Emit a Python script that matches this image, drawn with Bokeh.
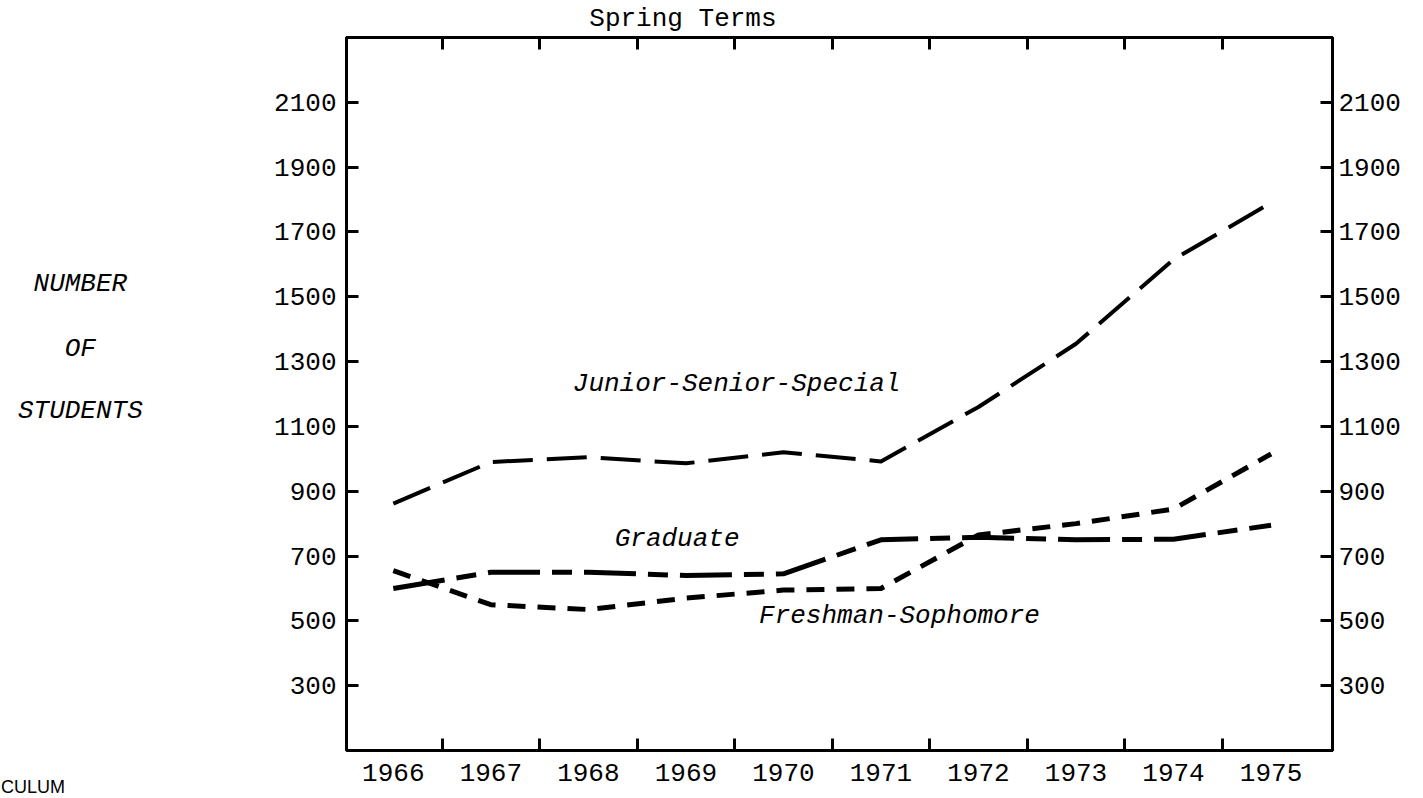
from bokeh.plotting import figure
from bokeh.models import FixedTicker, LinearAxis, Range1d, Label
from bokeh.layouts import row, column
from bokeh.embed import file_html
from bokeh.resources import INLINE

# ---- data ----
years = [1966, 1967, 1968, 1969, 1970, 1971, 1972, 1973, 1974, 1975]
junior_senior_special = [862, 990, 1005, 986, 1020, 992, 1160, 1355, 1615, 1790]
graduate = [600, 650, 650, 640, 645, 750, 758, 750, 752, 795]
freshman_sophomore = [655, 550, 535, 570, 595, 600, 765, 800, 845, 1015]
y_ticks = [300, 500, 700, 900, 1100, 1300, 1500, 1700, 1900, 2100]
year_bounds = [y + 0.5 for y in years[:-1]]

MONO = "Liberation Mono"

X0, X1 = 1965.52, 1975.63
Y0, Y1 = 100, 2300

# ---- main chart ----
p = figure(width=1173, height=762, output_backend="svg", toolbar_location=None,
           title=None,
           x_range=Range1d(X0, X1), y_range=Range1d(Y0, Y1),
           min_border_left=96, min_border_right=91,
           min_border_top=1, min_border_bottom=48)
p.background_fill_color = "white"
p.border_fill_color = "white"
p.outline_line_color = "black"
p.outline_line_width = 3
p.xgrid.visible = False
p.ygrid.visible = False

def style_axis(ax):
    ax.axis_line_color = "black"
    ax.axis_line_width = 3
    ax.major_tick_line_color = "black"
    ax.major_tick_line_width = 3
    ax.minor_tick_line_color = "black"
    ax.minor_tick_line_width = 3
    ax.major_label_text_font = MONO
    ax.major_label_text_font_size = "26px"
    ax.major_label_text_color = "black"

# bottom axis: year labels at centres, tick marks at boundaries
xb = p.xaxis[0]
xb.ticker = FixedTicker(ticks=years, minor_ticks=year_bounds)
style_axis(xb)
xb.major_tick_in = 0
xb.major_tick_out = 0
xb.minor_tick_in = 12
xb.minor_tick_out = 0
xb.major_label_standoff = 13

# top axis: ticks only
xt = LinearAxis(ticker=FixedTicker(ticks=year_bounds))
style_axis(xt)
xt.major_tick_in = 12
xt.major_tick_out = 0
xt.minor_tick_line_color = None
xt.major_label_text_color = None
xt.major_label_text_font_size = "0px"
xt.major_label_standoff = 0
p.add_layout(xt, "above")

# left axis
yl = p.yaxis[0]
yl.ticker = FixedTicker(ticks=y_ticks)
style_axis(yl)
yl.major_tick_in = 12
yl.major_tick_out = 0
yl.minor_tick_line_color = None
yl.major_label_standoff = 10

# right axis
yr = LinearAxis(ticker=FixedTicker(ticks=y_ticks))
style_axis(yr)
yr.major_tick_in = 12
yr.major_tick_out = 0
yr.minor_tick_line_color = None
yr.major_label_standoff = 6
p.add_layout(yr, "right")

# series
p.line(years, junior_senior_special, line_color="black", line_width=4,
       line_dash="40 14", line_join="round")
p.line(years, graduate, line_color="black", line_width=5,
       line_dash="52 12 20 12", line_join="round")
p.line(years, freshman_sophomore, line_color="black", line_width=5,
       line_dash="18 12", line_join="round")

def add_label(fig, x, y, text, style="italic", size="26px", font=MONO,
              align="center", baseline="middle"):
    fig.add_layout(Label(x=x, y=y, text=text, text_font=font,
                         text_font_style=style, text_font_size=size,
                         text_color="black", text_align=align,
                         text_baseline=baseline))

add_label(p, 1969.52, 1231, "Junior-Senior-Special")
add_label(p, 1968.91, 753, "Graduate")
add_label(p, 1971.19, 515, "Freshman-Sophomore")

# ---- strips for text that lies outside the chart frame ----
def strip(w, h, xr, yr_):
    s = figure(width=w, height=h, output_backend="svg", toolbar_location=None,
               title=None, x_axis_location=None, y_axis_location=None,
               x_range=Range1d(*xr), y_range=Range1d(*yr_),
               min_border=0)
    s.outline_line_color = None
    s.xgrid.visible = False
    s.ygrid.visible = False
    s.background_fill_color = "white"
    s.border_fill_color = "white"
    return s

top = strip(1173, 36, (1964.535, 1976.566), (2303.1, 2414.2))
add_label(top, 1968.64, 2358, "Spring Terms", style="normal")

left = strip(250, 798, (1961.971, 1964.535), (-48.1, 2414.2))
add_label(left, 1962.79, 1540, "NUMBER")
add_label(left, 1962.79, 1340, "OF")
add_label(left, 1962.79, 1148, "STUDENTS")
add_label(left, 1961.975, -45, "CULUM", style="normal", size="18px",
          font="Liberation Sans", align="left", baseline="bottom")

layout = row(left, column(top, p))

open("out.html", "w").write(file_html(layout, INLINE))
